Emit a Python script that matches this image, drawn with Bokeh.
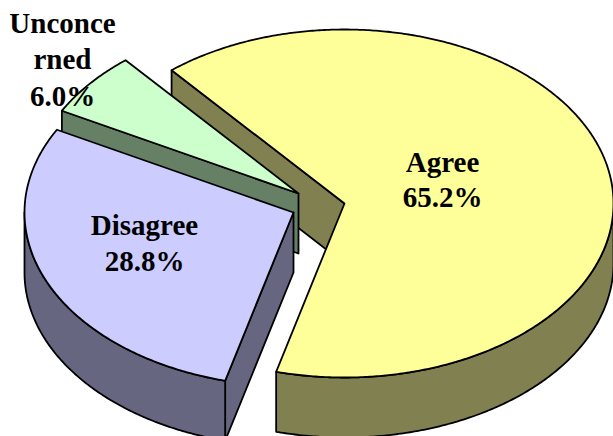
import numpy as np
from bokeh.embed import file_html
from bokeh.models import ColumnDataSource
from bokeh.plotting import figure
from bokeh.resources import INLINE
from bokeh.core.properties import value

categories = ["Agree", "Disagree", "Unconcerned"]
shares = [65.2, 28.8, 6.0]
label_lines = [["Agree"], ["Disagree"], ["Unconce", "rned"]]
top_colors = ["#FFFF99", "#CCCCFF", "#CCFFCC"]
side_colors = ["#808050", "#666680", "#668066"]

FIRST_ANGLE = 320.0
RX, RY, DEPTH = 269.0, 174.0, 60.0
APEX = {"Agree": (344, 203), "Disagree": (293, 212), "Unconcerned": (298, 193)}
LABEL_AT = {"Agree": (442, 161), "Disagree": (144, 224), "Unconcerned": (62, 22)}
LINE_PITCH = {"Agree": 35, "Disagree": 36, "Unconcerned": 36.5}

W, H = 613, 436
p = figure(width=W, height=H, x_range=(0, 613), y_range=(436, 0),
           output_backend="svg", toolbar_location=None,
           min_border=0, outline_line_color=None, background_fill_color=None,
           border_fill_color=None)
p.axis.visible = False
p.grid.visible = False


def arc(c, a0, a1, dy=0.0):
    t = np.radians(np.linspace(a0, a1, max(2, int(abs(a1 - a0)) * 2)))
    return c[0] + RX * np.sin(t), c[1] - RY * np.cos(t) + dy


def add(xs, ys, color):
    p.patch(list(xs), list(ys), fill_color=color, line_color="black", line_width=1.8,
            line_join="round")


def cut_wall(c, a, color):
    x, y = arc(c, a, a)
    add([c[0], x[0], x[0], c[0]], [c[1], y[0], y[0] + DEPTH, c[1] + DEPTH], color)


def outer_wall(c, a0, a1, color):
    x, y = arc(c, a0, a1)
    add(np.r_[x, x[::-1]], np.r_[y, y[::-1] + DEPTH], color)


def top(c, a0, a1, color):
    x, y = arc(c, a0, a1)
    add(np.r_[c[0], x], np.r_[c[1], y], color)


spans = np.array(shares) * 3.6
starts = FIRST_ANGLE + np.r_[0, np.cumsum(spans)[:-1]]
ends = starts + spans

# draw order: far to near
a0, a1 = starts[0], ends[0]
c = APEX["Agree"]
cut_wall(c, a0, side_colors[0])
outer_wall(c, 450, a1, side_colors[0])
top(c, a0, a1, top_colors[0])

a0, a1 = starts[2], ends[2]
c = APEX["Unconcerned"]
cut_wall(c, a0, side_colors[2])
top(c, a0, a1, top_colors[2])

a0, a1 = starts[1], ends[1]
c = APEX["Disagree"]
cut_wall(c, a0, side_colors[1])
outer_wall(c, a0, 630, side_colors[1])
top(c, a0, a1, top_colors[1])

tx, ty, tt = [], [], []
for cat, share, lines in zip(categories, shares, label_lines):
    x0, y0 = LABEL_AT[cat]
    for i, line in enumerate(lines + [f"{share:.1f}%"]):
        tx.append(x0)
        ty.append(y0 + i * LINE_PITCH[cat])
        tt.append(line)
p.text(x="x", y="y", text="t", source=ColumnDataSource(dict(x=tx, y=ty, t=tt)),
       text_font=value("Liberation Serif"), text_font_style="bold",
       text_font_size="29px", text_align="center", text_baseline="alphabetic",
       text_color="black")

open("out.html", "w").write(file_html(p, INLINE))
